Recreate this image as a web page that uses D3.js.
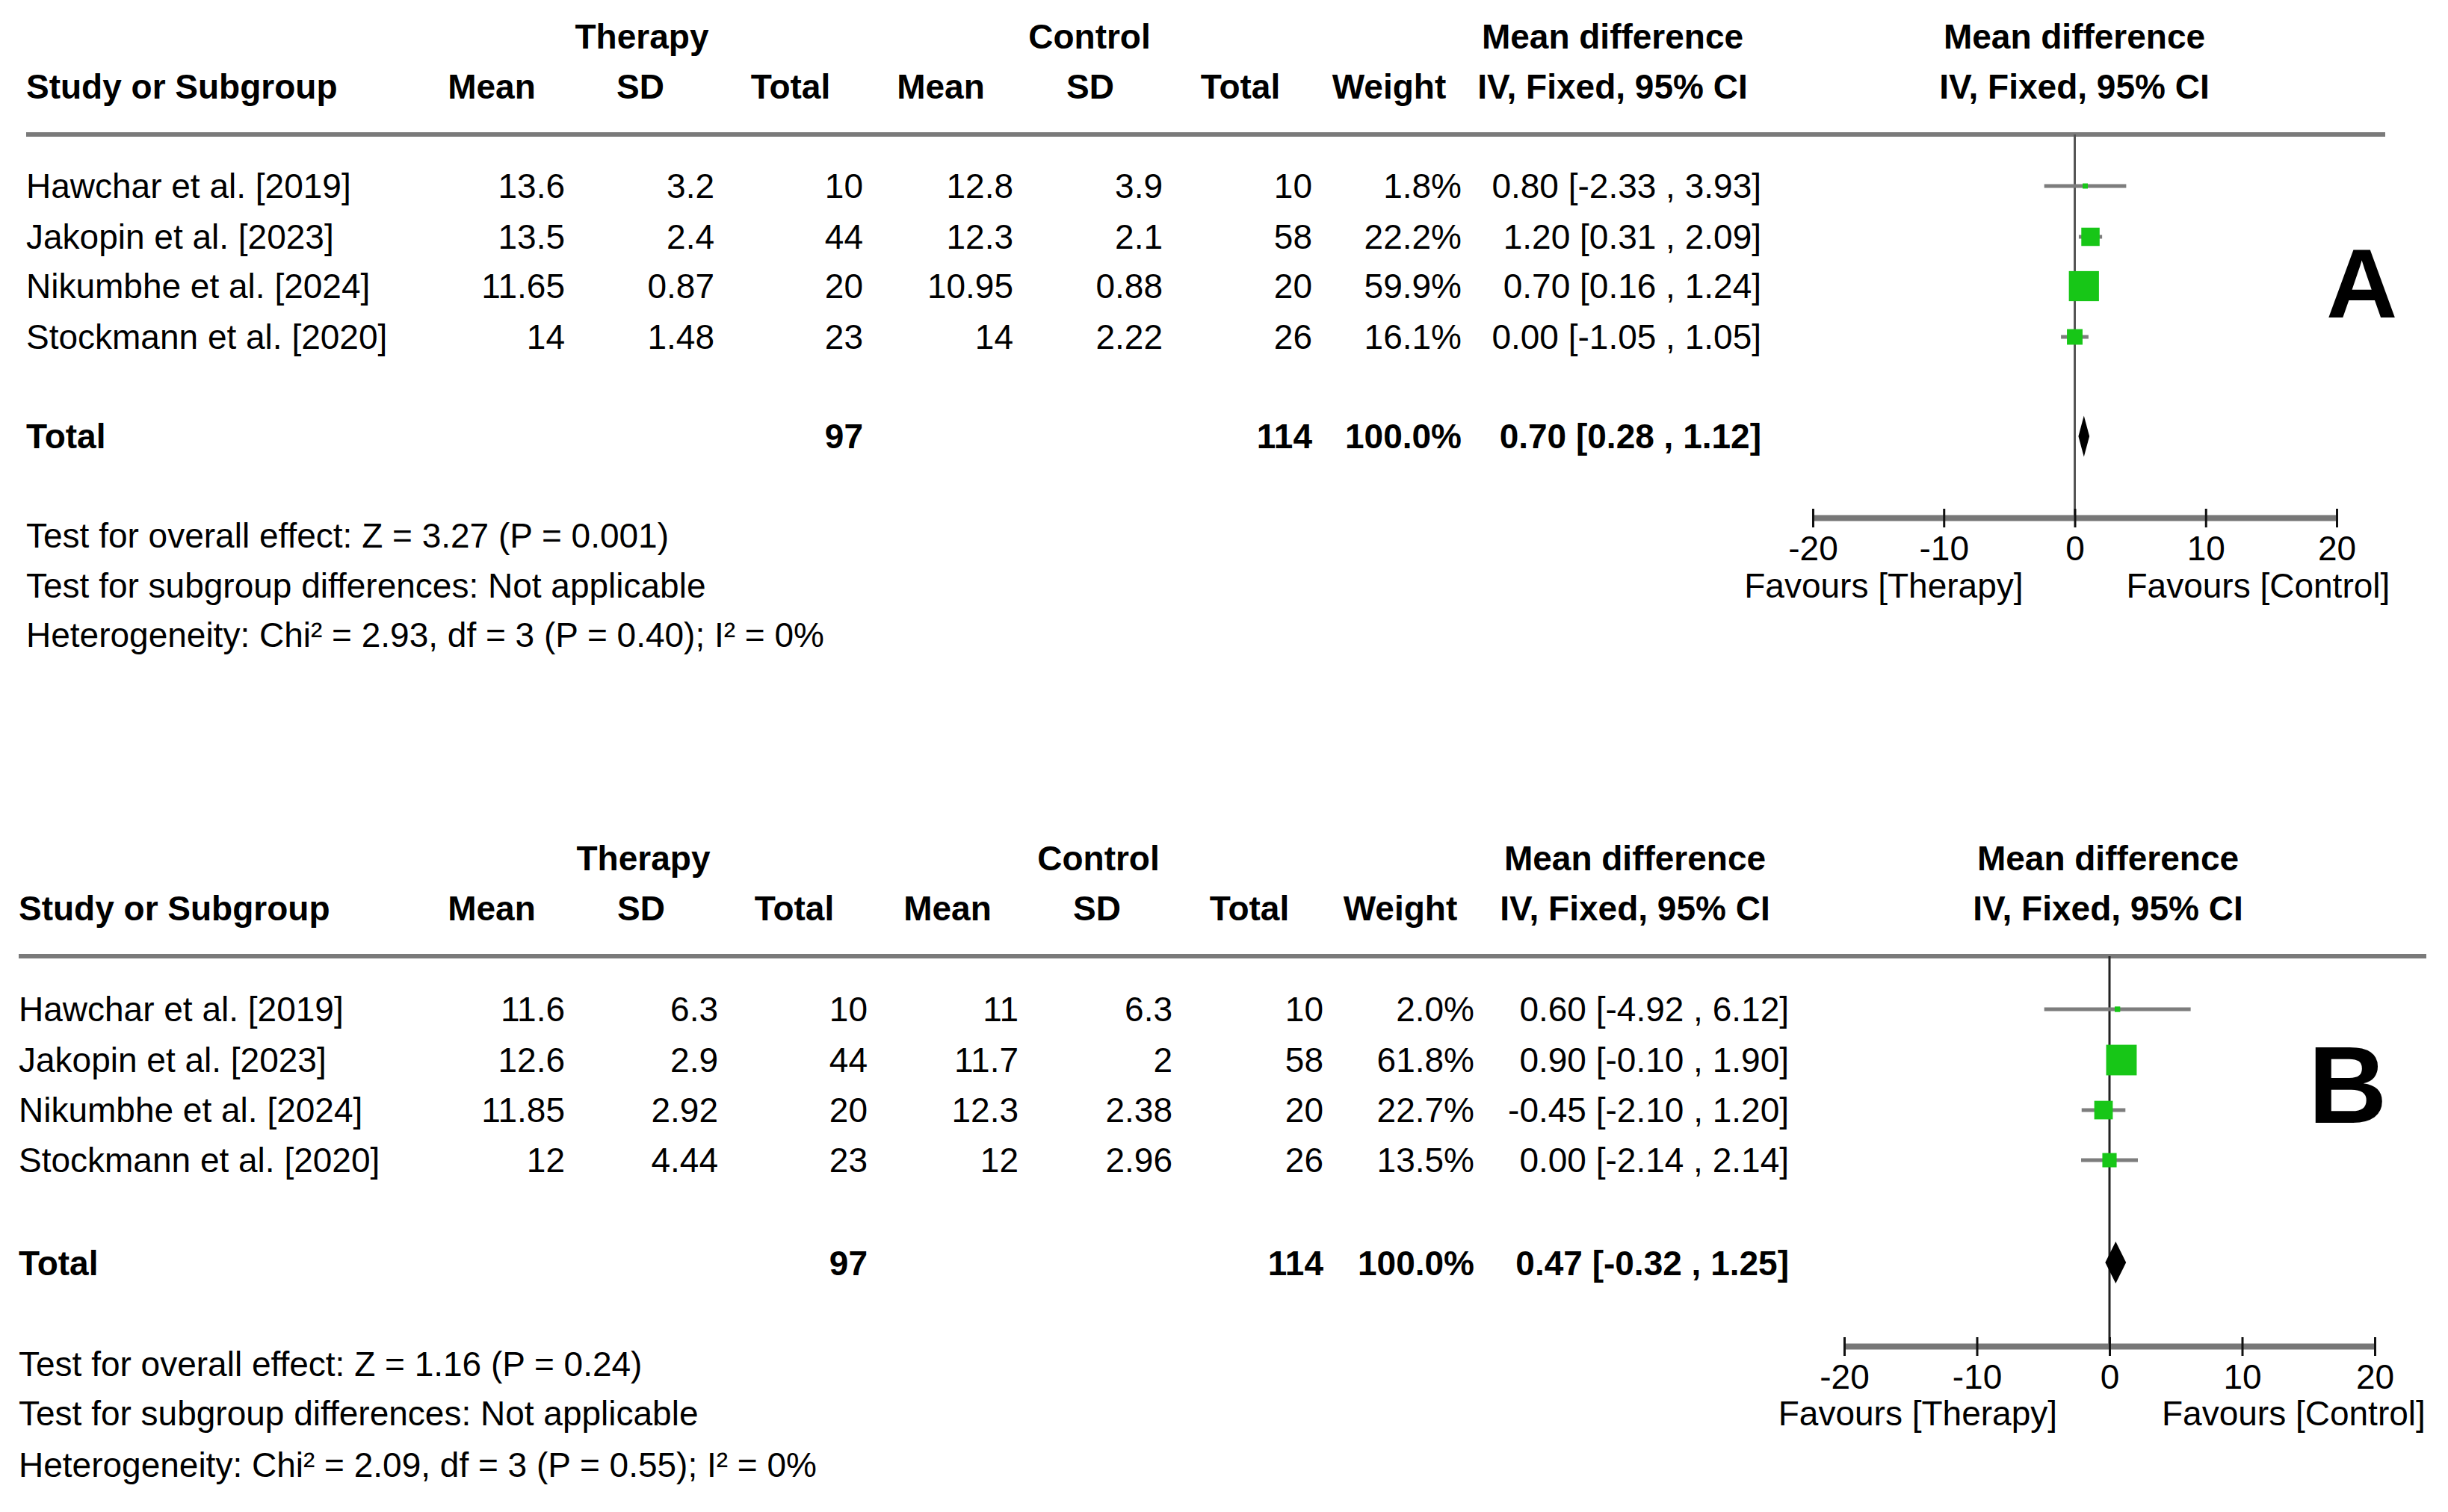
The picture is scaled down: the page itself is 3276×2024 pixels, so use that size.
<!DOCTYPE html>
<html>
<head>
<meta charset="utf-8">
<script src="https://cdn.jsdelivr.net/npm/d3@7"></script>
<style>
  body { margin: 0; background: #fff; }
  svg { display: block; }
  text { font-family: "Liberation Sans", Arial, sans-serif; fill: #000; }
</style>
</head>
<body>
<svg id="chart" width="3276" height="2024"></svg>
<script>
// shared
const studies = ["Hawchar et al. [2019]", "Jakopin et al. [2023]", "Nikumbhe et al. [2024]", "Stockmann et al. [2020]"];
const axisTicks = [-20, -10, 0, 10, 20];

// panel A
const therapyMeanA = ["13.6", "13.5", "11.65", "14"];
const therapySdA = ["3.2", "2.4", "0.87", "1.48"];
const therapyNA = [10, 44, 20, 23];
const controlMeanA = ["12.8", "12.3", "10.95", "14"];
const controlSdA = ["3.9", "2.1", "0.88", "2.22"];
const controlNA = [10, 58, 20, 26];
const weightA = [1.8, 22.2, 59.9, 16.1];
const mdA = [0.80, 1.20, 0.70, 0.00];
const lowA = [-2.33, 0.31, 0.16, -1.05];
const highA = [3.93, 2.09, 1.24, 1.05];
const totalA = {nT: 97, nC: 114, md: 0.70, low: 0.28, high: 1.12};
const notesA = ["Test for overall effect: Z = 3.27 (P = 0.001)",
  "Test for subgroup differences: Not applicable",
  "Heterogeneity: Chi\u00b2 = 2.93, df = 3 (P = 0.40); I\u00b2 = 0%"];

// panel B
const therapyMeanB = ["11.6", "12.6", "11.85", "12"];
const therapySdB = ["6.3", "2.9", "2.92", "4.44"];
const therapyNB = [10, 44, 20, 23];
const controlMeanB = ["11", "11.7", "12.3", "12"];
const controlSdB = ["6.3", "2", "2.38", "2.96"];
const controlNB = [10, 58, 20, 26];
const weightB = [2.0, 61.8, 22.7, 13.5];
const mdB = [0.60, 0.90, -0.45, 0.00];
const lowB = [-4.92, -0.10, -2.10, -2.14];
const highB = [6.12, 1.90, 1.20, 2.14];
const totalB = {nT: 97, nC: 114, md: 0.47, low: -0.32, high: 1.25};
const notesB = ["Test for overall effect: Z = 1.16 (P = 0.24)",
  "Test for subgroup differences: Not applicable",
  "Heterogeneity: Chi\u00b2 = 2.09, df = 3 (P = 0.55); I\u00b2 = 0%"];

const svg = d3.select("#chart");
const fs = 46;

function ci(m, l, h) {
  return m.toFixed(2) + " [" + l.toFixed(2) + " , " + h.toFixed(2) + "]";
}

function drawPanel(p, d) {
  const g = svg.append("g");
  const txt = (x, y, s, anchor, bold, size) => g.append("text")
    .attr("x", x).attr("y", y).text(s)
    .attr("text-anchor", anchor || "start")
    .attr("font-weight", bold ? "bold" : "normal")
    .attr("font-size", size || fs);

  // header
  txt(p.hc.therapy, p.h1, "Therapy", "middle", true);
  txt(p.hc.control, p.h1, "Control", "middle", true);
  txt(p.hc.md, p.h1, "Mean difference", "middle", true);
  txt(p.hc.plot, p.h1, "Mean difference", "middle", true);
  txt(p.left, p.h2, "Study or Subgroup", "start", true);
  [["Mean", p.hc.tMean], ["SD", p.hc.tSd], ["Total", p.hc.tN], ["Mean", p.hc.cMean],
   ["SD", p.hc.cSd], ["Total", p.hc.cN], ["Weight", p.hc.w],
   ["IV, Fixed, 95% CI", p.hc.md], ["IV, Fixed, 95% CI", p.hc.plot]]
    .forEach(h => txt(h[1], p.h2, h[0], "middle", true));

  g.append("line").attr("x1", p.left).attr("x2", p.ruleEnd)
    .attr("y1", p.rule).attr("y2", p.rule)
    .attr("stroke", "#7a7a7a").attr("stroke-width", 6);

  const x = d3.scaleLinear().domain([-20, 20]).range(p.xr);

  // rows
  studies.forEach((s, i) => {
    const y = p.rows[i];
    const c = p.col;
    txt(p.left, y, s);
    txt(c[0], y, d.tMean[i], "end");
    txt(c[1], y, d.tSd[i], "end");
    txt(c[2], y, d.tN[i], "end");
    txt(c[3], y, d.cMean[i], "end");
    txt(c[4], y, d.cSd[i], "end");
    txt(c[5], y, d.cN[i], "end");
    txt(c[6], y, d.w[i].toFixed(1) + "%", "end");
    txt(c[7], y, ci(d.md[i], d.low[i], d.high[i]), "end");
  });

  // total row
  txt(p.left, p.total, "Total", "start", true);
  txt(p.col[2], p.total, d.total.nT, "end", true);
  txt(p.col[5], p.total, d.total.nC, "end", true);
  txt(p.col[6], p.total, "100.0%", "end", true);
  txt(p.col[7], p.total, ci(d.total.md, d.total.low, d.total.high), "end", true);

  d.notes.forEach((n, i) => txt(p.left, p.notes[i], n));

  // zero line
  g.append("line").attr("x1", x(0)).attr("x2", x(0))
    .attr("y1", p.rule).attr("y2", p.axisY)
    .attr("stroke", p.zeroColor).attr("stroke-width", 3);

  // CI lines and squares
  studies.forEach((s, i) => {
    const cy = p.rows[i] - 16;
    g.append("line").attr("x1", x(d.low[i])).attr("x2", x(d.high[i]))
      .attr("y1", cy).attr("y2", cy)
      .attr("stroke", "#7d7d7d").attr("stroke-width", 5);
    const side = 5.2 * Math.sqrt(d.w[i]);
    g.append("rect").attr("x", x(d.md[i]) - side / 2).attr("y", cy - side / 2)
      .attr("width", side).attr("height", side)
      .attr("fill", "#17c617");
  });

  // diamond
  const dy = p.diamondY, dh = p.diamondH / 2;
  g.append("path")
    .attr("d", `M${x(d.total.low)},${dy} L${x(d.total.md)},${dy - dh} L${x(d.total.high)},${dy} L${x(d.total.md)},${dy + dh} Z`)
    .attr("fill", "#000");

  // axis
  const ax = g.append("g").attr("transform", `translate(0,${p.axisY})`)
    .call(d3.axisBottom(x).tickValues(axisTicks).tickFormat(v => String(v))
      .tickSize(0).tickSizeOuter(0));
  ax.select(".domain").attr("stroke", "#777").attr("stroke-width", 8);
  ax.selectAll(".tick line").attr("y1", -12).attr("y2", 13)
    .attr("stroke", "#111").attr("stroke-width", 3);
  ax.selectAll(".tick text").attr("y", 57).attr("dy", 0)
    .attr("font-size", fs).attr("font-family", "Liberation Sans, Arial, sans-serif")
    .attr("fill", "#000");

  txt(x(0) - p.favGap, p.fav, "Favours [Therapy]", "end");
  txt(x(0) + p.favGap, p.fav, "Favours [Control]", "start");

  txt(p.letterX, p.letterY, p.letter, "start", true, p.letterSize);
}

drawPanel({
  left: 35, h1: 65, h2: 132, rule: 180, ruleEnd: 3192,
  hc: {therapy: 859, control: 1458, md: 2158, plot: 2776,
       tMean: 658, tSd: 857, tN: 1058, cMean: 1259, cSd: 1459, cN: 1660, w: 1859},
  col: [756, 956, 1155, 1356, 1556, 1756, 1956, 2357],
  rows: [265, 333, 399, 467], total: 600, notes: [733, 800, 866],
  xr: [2426, 3127], axisY: 693, fav: 800, favGap: 69,
  diamondY: 584, diamondH: 55, zeroColor: "#555",
  letter: "A", letterX: 3113, letterY: 425, letterSize: 132
}, {tMean: therapyMeanA, tSd: therapySdA, tN: therapyNA, cMean: controlMeanA,
    cSd: controlSdA, cN: controlNA, w: weightA, md: mdA, low: lowA, high: highA,
    total: totalA, notes: notesA});

drawPanel({
  left: 25, h1: 1165, h2: 1232, rule: 1280, ruleEnd: 3247,
  hc: {therapy: 861, control: 1470, md: 2188, plot: 2821,
       tMean: 658, tSd: 858, tN: 1063, cMean: 1268, cSd: 1468, cN: 1672, w: 1874},
  col: [756, 961, 1161, 1363, 1569, 1771, 1973, 2394],
  rows: [1367, 1435, 1502, 1569], total: 1707, notes: [1842, 1908, 1977],
  xr: [2468, 3178], axisY: 1802, fav: 1908, favGap: 70,
  diamondY: 1690, diamondH: 56, zeroColor: "#222",
  letter: "B", letterX: 3089, letterY: 1503, letterSize: 146
}, {tMean: therapyMeanB, tSd: therapySdB, tN: therapyNB, cMean: controlMeanB,
    cSd: controlSdB, cN: controlNB, w: weightB, md: mdB, low: lowB, high: highB,
    total: totalB, notes: notesB});
</script>
</body>
</html>
